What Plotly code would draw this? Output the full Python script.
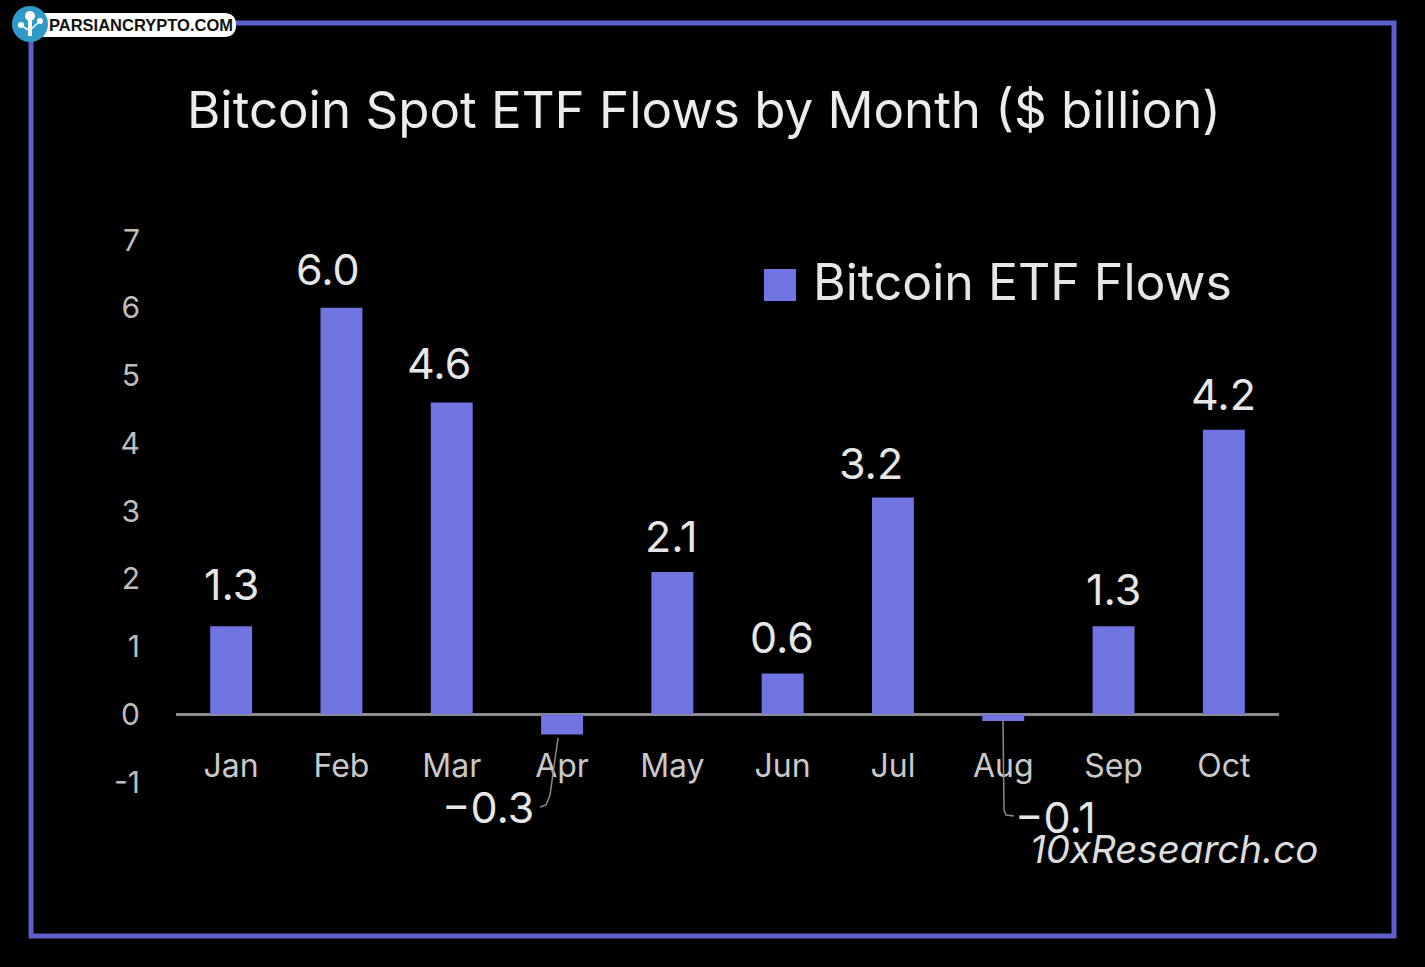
import plotly.graph_objects as go

months = ["Jan", "Feb", "Mar", "Apr", "May", "Jun", "Jul", "Aug", "Sep", "Oct"]
flows = [1.3, 6.0, 4.6, -0.3, 2.1, 0.6, 3.2, -0.1, 1.3, 4.2]
labels = ["1.3", "6.0", "4.6", "\u22120.3", "2.1", "0.6", "3.2", "\u22120.1", "1.3", "4.2"]
y_ticks = [-1, 0, 1, 2, 3, 4, 5, 6, 7]
y_tick_text = ["-1", "0", "1", "2", "3", "4", "5", "6", "7"]
title_text = "Bitcoin Spot ETF Flows by Month ($ billion)"
legend_text = "Bitcoin ETF Flows"
credit_text = "10xResearch.co"
badge_text = "PARSIANCRYPTO.COM"

W, H = 1425, 967
L, R, T, B = 176, 1279, 240, 782
BAR = "#6f74e0"
FRAME = "#5a5fc9"
FONT = "Inter"


def px(x):
    return (x - L) / (R - L)


def py(y):
    return (B - y) / (B - T)


# label offsets (pixels) relative to each bar's end
x_shift = [0, -13, -13, -74, -1, -1, -22, 52, 0, 0]
y_shift = [14, 11, 12, -100, 8, 9, 6, -124, 9, 8]

fig = go.Figure()
fig.add_bar(x=months, y=flows, name=legend_text, marker_color=BAR, marker_line_width=0,
            width=0.38, showlegend=False)

annotations = []
for m, v, t, dx, dy in zip(months, flows, labels, x_shift, y_shift):
    annotations.append(dict(x=m, y=v, xref="x", yref="y", text=t, showarrow=False,
                            xshift=dx, yshift=dy, yanchor="bottom",
                            font=dict(family=FONT, size=43, color="#e6e6e6")))


def txt(x, y, s, size, color, family=FONT, anchor="center", **kw):
    annotations.append(dict(x=px(x), y=py(y), xref="paper", yref="paper", text=s, showarrow=False,
                            xanchor=anchor, yanchor="middle",
                            font=dict(family=family, size=size, color=color), **kw))


txt(704, 109, title_text, 51, "#ececec")
txt(811, 282, legend_text, 50, "#e6e6e6", anchor="left")
txt(1174, 849, "<i>" + credit_text + "</i>", 38.5, "#dcdcdc")
txt(141, 25, "<b>" + badge_text + "</b>", 16.5, "#111111", family="Liberation Sans")


def rect(x0, y0, x1, y1, **kw):
    return dict(type="rect", xref="paper", yref="paper", x0=px(x0), x1=px(x1), y0=py(y0), y1=py(y1), **kw)


def circ(cx, cy, r, color):
    return dict(type="circle", xref="paper", yref="paper", x0=px(cx - r), x1=px(cx + r),
                y0=py(cy - r), y1=py(cy + r), fillcolor=color, line_width=0)


def path(points, color, width):
    d = "M" + " L".join(f"{px(x):.5f},{py(y):.5f}" for x, y in points)
    return dict(type="path", xref="paper", yref="paper", path=d, line=dict(color=color, width=width))


def pill(x0, y0, x1, y1, r):
    a, b, c, d = px(x0), px(x1), py(y0), py(y1)
    rx, ry = r / (R - L), r / (B - T)
    return (f"M{a + rx:.5f},{c:.5f} L{b - rx:.5f},{c:.5f} Q{b:.5f},{c:.5f} {b:.5f},{c - ry:.5f} "
            f"L{b:.5f},{d + ry:.5f} Q{b:.5f},{d:.5f} {b - rx:.5f},{d:.5f} L{a + rx:.5f},{d:.5f} "
            f"Q{a:.5f},{d:.5f} {a:.5f},{d + ry:.5f} L{a:.5f},{c - ry:.5f} Q{a:.5f},{c:.5f} {a + rx:.5f},{c:.5f} Z")


shapes = [
    rect(31, 23, 1394, 936, line=dict(color=FRAME, width=5), fillcolor="rgba(0,0,0,0)", layer="below"),
    rect(764, 269, 796, 301, fillcolor=BAR, line_width=0),
    path([(558, 738), (550, 795), (546, 805), (540, 807)], "#8a8a8a", 1.5),
    path([(1003, 720), (1004, 810), (1006, 815), (1014, 816)], "#8a8a8a", 1.5),
    dict(type="path", xref="paper", yref="paper", path=pill(30, 13, 236, 37, 12), fillcolor="#ffffff", line_width=0),
    circ(30, 24, 18, "#2f9bc6"),
    circ(30, 16, 5, "#ffffff"),
    circ(40, 21, 3, "#ffffff"),
    circ(21, 25, 3, "#ffffff"),
    path([(30, 20), (30, 36)], "#ffffff", 4),
    path([(30, 30), (39, 22)], "#ffffff", 1.5),
    path([(30, 31), (22, 26)], "#ffffff", 1.5),
]

fig.update_layout(
    width=W, height=H, autosize=False,
    paper_bgcolor="#000000", plot_bgcolor="#000000",
    margin=dict(l=L, r=W - R, t=T, b=H - B, pad=0),
    showlegend=False, bargap=0.62,
    annotations=annotations, shapes=shapes,
    xaxis=dict(type="category", categoryorder="array", categoryarray=months, showgrid=False,
               zeroline=False, showline=False, ticks="",
               ticklabelstandoff=-38,
               tickfont=dict(family=FONT, size=32, color="#c9c9c9")),
    yaxis=dict(range=[-1, 7], tickvals=y_ticks, ticktext=y_tick_text, showgrid=False,
               zeroline=True, zerolinecolor="#8c8c8c", zerolinewidth=2.5, showline=False, ticks="",
               ticklabelstandoff=35,
               tickfont=dict(family=FONT, size=30, color="#bdbdbd")),
)
fig.write_html("out.html", config={"displayModeBar": False},
               post_script="document.body.style.margin='0';document.body.style.background='#000';")
